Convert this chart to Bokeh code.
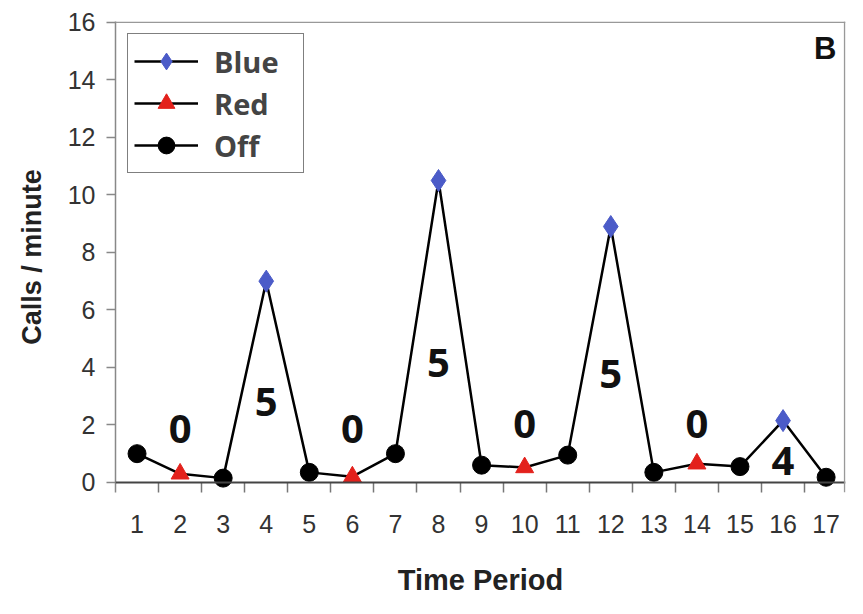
from bokeh.plotting import figure
from bokeh.models import FixedTicker, Range1d, Span, Label, Legend, LegendItem
from bokeh.embed import file_html
from bokeh.resources import INLINE
from bokeh.core.properties import value

# ---- data ----
periods = list(range(1, 18))
calls = [1.0, 0.3, 0.15, 7.0, 0.35, 0.2, 1.0, 10.5, 0.6, 0.52, 0.95, 8.9,
         0.35, 0.65, 0.55, 2.15, 0.18]
condition = ["Off", "Red", "Off", "Blue", "Off", "Red", "Off", "Blue", "Off",
             "Red", "Off", "Blue", "Off", "Red", "Off", "Blue", "Off"]
count_x = [2, 4, 6, 8, 10, 12, 14, 16]
count_y = [1.87, 2.8, 1.87, 4.15, 2.04, 3.77, 2.04, 0.76]
count_text = ["0", "5", "0", "5", "0", "5", "0", "4"]
y_ticks = list(range(0, 17, 2))
boundaries = [p + 0.5 for p in periods[:-1]]

p = figure(width=847, height=598, output_backend="svg", toolbar_location=None,
           x_range=Range1d(0.5, 17.45), y_range=Range1d(-0.35, 16.03),
           min_border_left=115, min_border_right=2, min_border_top=21,
           min_border_bottom=106)
p.outline_line_color = None
p.xgrid.visible = False
p.ygrid.visible = False

# x axis baseline at zero
p.add_layout(Span(location=0, dimension="width", line_color="#444444",
                  line_width=2))

line_r = p.line(periods, calls, line_color="black", line_width=2.5)

def subset(cond):
    xs = [x for x, c in zip(periods, condition) if c == cond]
    ys = [y for y, c in zip(calls, condition) if c == cond]
    return xs, ys

bx, by = subset("Blue")
rx, ry = subset("Red")
ox, oy = subset("Off")
blue_r = p.scatter(bx, by, marker="diamond", size=22, fill_color="#4b5bc8",
                   line_color="#4b5bc8")
red_r = p.scatter(rx, ry, marker="triangle", size=18, fill_color="#e3211c",
                  line_color="#e3211c")
off_r = p.scatter(ox, oy, marker="circle", size=18, fill_color="black",
                  line_color="black")

p.text(x=count_x, y=count_y, text=count_text, text_font=value("Open Sans"),
       text_font_style="bold", text_font_size="40px", text_align="center",
       text_baseline="middle", text_color="#111111")

p.add_layout(Label(x=16.98, y=15.1, text="B", text_font="Liberation Sans",
                   text_font_style="bold", text_font_size="31px",
                   text_align="center", text_baseline="middle",
                   text_color="#111111"))

p.add_layout(Span(location=16, dimension="width", line_color="#999999",
                  line_width=1.5))
p.add_layout(Span(location=17.43, dimension="height", line_color="#999999",
                  line_width=1.5))

legend = Legend(items=[LegendItem(label="Blue", renderers=[line_r, blue_r]),
                       LegendItem(label="Red", renderers=[line_r, red_r]),
                       LegendItem(label="Off", renderers=[line_r, off_r])],
                location="top_left", border_line_color="black",
                border_line_width=1.5, padding=6, spacing=-2, margin=12,
                label_text_font="Open Sans", label_text_font_style="bold",
                label_text_font_size="29px", glyph_width=64, glyph_height=42,
                label_height=42, label_standoff=16, label_width=83,
                background_fill_alpha=1)
p.add_layout(legend)

ya = p.yaxis[0]
ya.ticker = FixedTicker(ticks=y_ticks)
ya.axis_label = "Calls / minute"
ya.axis_label_text_font = "Liberation Sans"
ya.axis_label_text_font_style = "bold"
ya.axis_label_text_font_size = "27px"
ya.axis_label_text_color = "#222222"
ya.axis_label_standoff = 18
ya.major_label_text_font = "Liberation Sans"
ya.major_label_text_font_size = "25px"
ya.major_label_text_color = "#333333"
ya.major_label_standoff = 11
ya.major_tick_out = 9
ya.major_tick_in = 0
ya.minor_tick_out = 0
ya.minor_tick_in = 0
ya.axis_line_color = "#888888"
ya.axis_line_width = 1.5
ya.major_tick_line_color = "#888888"
ya.major_tick_line_width = 1.5

xa = p.xaxis[0]
xa.ticker = FixedTicker(ticks=periods, minor_ticks=boundaries)
xa.axis_label = "Time Period"
xa.axis_label_text_font = "Liberation Sans"
xa.axis_label_text_font_style = "bold"
xa.axis_label_text_font_size = "29px"
xa.axis_label_text_color = "#222222"
xa.axis_label_standoff = 28
xa.major_label_text_font = "Liberation Sans"
xa.major_label_text_font_size = "25px"
xa.major_label_text_color = "#333333"
xa.major_label_standoff = 22
xa.major_tick_out = 0
xa.major_tick_in = 0
xa.minor_tick_out = 0
xa.minor_tick_in = 10
xa.minor_tick_line_color = "#777777"
xa.minor_tick_line_width = 1.5
xa.axis_line_color = None

open("out.html", "w").write(file_html(p, INLINE))
